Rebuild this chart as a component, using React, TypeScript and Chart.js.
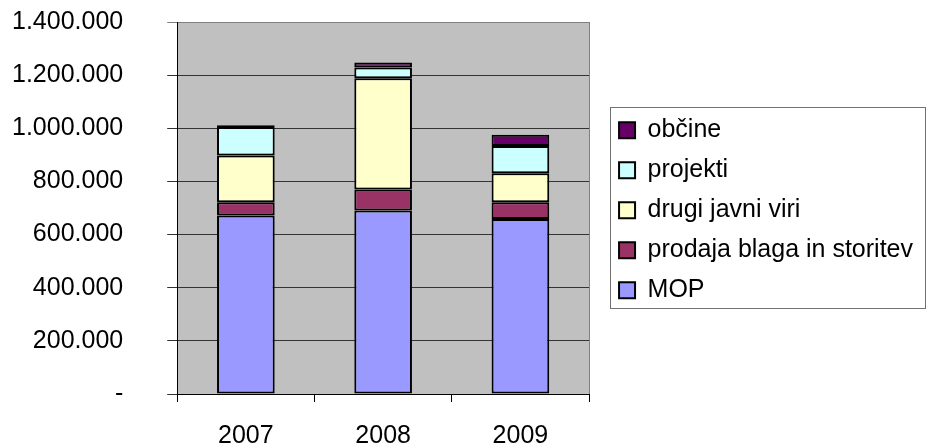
import React, { useEffect, useRef } from 'react';
import { Chart, registerables } from 'chart.js';

Chart.register(...registerables);

const categories = ['2007', '2008', '2009'];
const seriesNames = ['MOP', 'prodaja blaga in storitev', 'drugi javni viri', 'projekti', 'občine'];
const mop = [672000, 691000, 659000];
const prodaja = [50000, 79000, 63000];
const drugi = [176000, 418000, 109000];
const projekti = [107000, 41000, 102000];
const obcine = [6000, 19000, 43000];
const seriesColors = ['#9999FF', '#993366', '#FFFFCC', '#CCFFFF', '#660066'];
const yMin = 0;
const yMax = 1400000;
const yStep = 200000;

const fmt = (v: number) => (v === 0 ? '-' : String(Math.round(v)).replace(/\B(?=(\d{3})+(?!\d))/g, '.'));

const FONT = "'Liberation Sans', Arial, sans-serif";
const LEGEND_PAD = 15;
const Y_TICK_PAD = 44;
const X_TICK_PAD = 22;

const plotPlugin = {
  id: 'plotPlugin',
  afterLayout(chart: any) {
    const lg = chart.legend;
    const a = chart.chartArea;
    if (lg) {
      lg.left += 15;
      lg.right += 15;
      const colH = (lg.columnSizes && lg.columnSizes[0] && lg.columnSizes[0].height) || 200;
      const cur = (lg.top + LEGEND_PAD + lg.bottom - colH) / 2;
      const desired = (a.top + a.bottom) / 2 - colH / 2 + 9.7;
      const shift = desired - cur;
      lg.top += shift;
      lg.bottom += shift;
    }
  },
  beforeDraw(chart: any) {
    const { ctx, chartArea: a } = chart;
    ctx.save();
    ctx.fillStyle = '#C0C0C0';
    ctx.fillRect(a.left, a.top, a.right - a.left, a.bottom - a.top);
    ctx.restore();
  },
  afterDraw(chart: any) {
    const { ctx, chartArea: a } = chart;
    ctx.save();
    ctx.strokeStyle = '#808080';
    ctx.lineWidth = 1;
    ctx.beginPath();
    ctx.moveTo(Math.round(a.right) + 0.5, a.top);
    ctx.lineTo(Math.round(a.right) + 0.5, a.bottom);
    ctx.stroke();
    const lg = chart.legend;
    const hb = lg && lg.legendHitBoxes;
    if (hb && hb.length) {
      let top = Infinity, bottom = -Infinity, left = Infinity, right = -Infinity;
      hb.forEach((h: any) => {
        top = Math.min(top, h.top);
        bottom = Math.max(bottom, h.top + h.height);
        left = Math.min(left, h.left);
        right = Math.max(right, h.left + h.width);
      });
      ctx.strokeStyle = '#707070';
      ctx.strokeRect(Math.round(left - 9) + 0.5, Math.round(top - 11) + 0.5, Math.round(right - left + 21), Math.round(bottom - top + 16));
    }
    ctx.restore();
  },
};

export default function App() {
  const ref = useRef<HTMLCanvasElement | null>(null);
  useEffect(() => {
    document.body.style.margin = '0';
    if (!ref.current) return;
    const values = [mop, prodaja, drugi, projekti, obcine];
    const chart = new Chart(ref.current, {
      type: 'bar',
      data: {
        labels: categories,
        datasets: seriesNames.map((name, i) => ({
          label: name,
          data: values[i],
          backgroundColor: seriesColors[i],
          borderColor: '#000000',
          borderWidth: 2,
          borderSkipped: false,
          categoryPercentage: 1,
          barPercentage: 0.42,
        })),
      },
      options: {
        animation: false,
        responsive: true,
        maintainAspectRatio: false,
        layout: { padding: { left: 12, right: 20, top: 22, bottom: 0 } },
        plugins: {
          tooltip: { enabled: false },
          legend: {
            position: 'right',
            reverse: true,
            maxWidth: 360,
            labels: {
              boxWidth: 16,
              boxHeight: 16,
              padding: LEGEND_PAD,
              color: '#000',
              font: { family: FONT, size: 25, lineHeight: 1 },
            },
          },
        },
        scales: {
          x: {
            stacked: true,
            afterFit: (s: any) => {
              s.height -= X_TICK_PAD + 1;
            },
            grid: { offset: true, drawOnChartArea: false, tickLength: 8, color: '#000' },
            border: { color: '#000' },
            ticks: { color: '#000', padding: X_TICK_PAD, font: { family: FONT, size: 25, lineHeight: 1 } },
          },
          y: {
            stacked: true,
            min: yMin,
            max: yMax,
            afterFit: (s: any) => {
              s.paddingTop = 12.5;
              s.paddingBottom = 12.5;
              s.width -= Y_TICK_PAD;
            },
            grid: {
              tickLength: 10,
              color: (c: any) => (c.tick && c.tick.value === yMax ? '#808080' : '#333'),
            },
            border: { color: '#000' },
            ticks: {
              stepSize: yStep,
              color: '#000',
              padding: Y_TICK_PAD,
              font: { family: FONT, size: 25, lineHeight: 1 },
              callback: (v: any) => fmt(Number(v)),
            },
          },
        },
      },
      plugins: [plotPlugin],
    } as any);
    return () => chart.destroy();
  }, []);
  return (
    <div style={{ width: 928, height: 448, position: 'relative' }}>
      <canvas ref={ref} />
    </div>
  );
}
